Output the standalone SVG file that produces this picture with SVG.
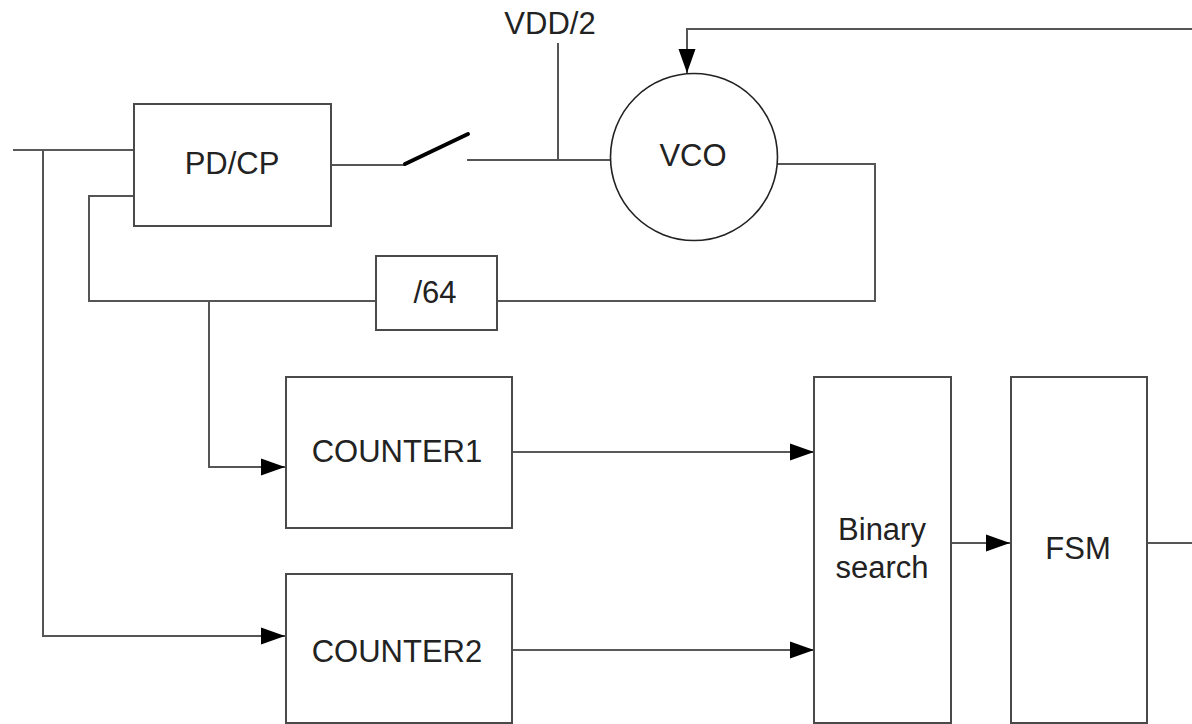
<svg xmlns="http://www.w3.org/2000/svg" width="1192" height="724" viewBox="0 0 1192 724">
  <style>
    .box { fill: #ffffff; stroke: #4a4a4a; stroke-width: 2; }
    .wire { fill: none; stroke: #555555; stroke-width: 2; }
    .thin { fill: none; stroke: #222222; stroke-width: 1.6; }
    .label { font-family: "Liberation Sans", Arial, sans-serif; font-size: 31px; fill: #222222; text-anchor: middle; }
  </style>
  <defs>
    <marker id="arrow" markerUnits="userSpaceOnUse" markerWidth="24" markerHeight="18" refX="24" refY="9" orient="auto">
      <path d="M0,0.5 L24,9 L0,17.5 z" fill="#000000"/>
    </marker>
  </defs>
  <rect width="1192" height="724" fill="#ffffff"/>

  <!-- connectors -->
  <g id="connectors">
    <!-- reference input into PD/CP and branch to COUNTER2 -->
    <path class="thin" d="M13,150 H134"/>
    <path class="wire" d="M43,150 V636 H285" marker-end="url(#arrow)"/>
    <!-- divided feedback into PD/CP -->
    <path class="wire" d="M134,196 H89 V301 H376"/>
    <path class="wire" d="M209,301 V467 H285" marker-end="url(#arrow)"/>
    <!-- VCO output through divider -->
    <path class="wire" d="M777,164 H875 V301 H497"/>
    <!-- PD/CP to switch -->
    <path class="wire" d="M331,165 H405"/>
    <!-- switch blade -->
    <path d="M405,164 L468,134" stroke="#000000" stroke-width="4" stroke-linecap="round" fill="none"/>
    <!-- switch to VCO control, VDD/2 tap -->
    <path class="wire" d="M467,160 H611"/>
    <path class="wire" d="M558,43 V160"/>
    <!-- counters to binary search -->
    <path class="thin" d="M512,452 H814" marker-end="url(#arrow)"/>
    <path class="thin" d="M512,650 H814" marker-end="url(#arrow)"/>
    <!-- binary search to FSM -->
    <path class="wire" d="M951,543 H1010" marker-end="url(#arrow)"/>
    <!-- FSM output, loop back to VCO -->
    <path class="wire" d="M1147,543 H1192"/>
    <path class="wire" d="M1192,29 H687 V73" marker-end="url(#arrow)"/>
  </g>

  <g id="pdcp">
    <rect class="box" x="134" y="104" width="197" height="122"/>
    <text class="label" x="232" y="174">PD/CP</text>
  </g>

  <g id="vdd2">
    <text class="label" x="550" y="34">VDD/2</text>
  </g>

  <g id="vco">
    <circle cx="694" cy="157" r="83.5" fill="#ffffff" stroke="#222222" stroke-width="1.6"/>
    <text class="label" x="693" y="166">VCO</text>
  </g>

  <g id="div64">
    <rect class="box" x="376" y="256" width="121" height="74"/>
    <text class="label" x="435" y="303">/64</text>
  </g>

  <g id="counter1">
    <rect class="box" x="286" y="377" width="226" height="151"/>
    <text class="label" x="397" y="462">COUNTER1</text>
  </g>

  <g id="counter2">
    <rect class="box" x="286" y="574" width="226" height="149"/>
    <text class="label" x="397" y="662">COUNTER2</text>
  </g>

  <g id="binary-search">
    <rect class="box" x="814" y="377" width="137" height="346"/>
    <text class="label" x="882" y="540">Binary</text>
    <text class="label" x="882" y="578">search</text>
  </g>

  <g id="fsm">
    <rect class="box" x="1011" y="377" width="136" height="346"/>
    <text class="label" x="1078" y="559">FSM</text>
  </g>
</svg>
